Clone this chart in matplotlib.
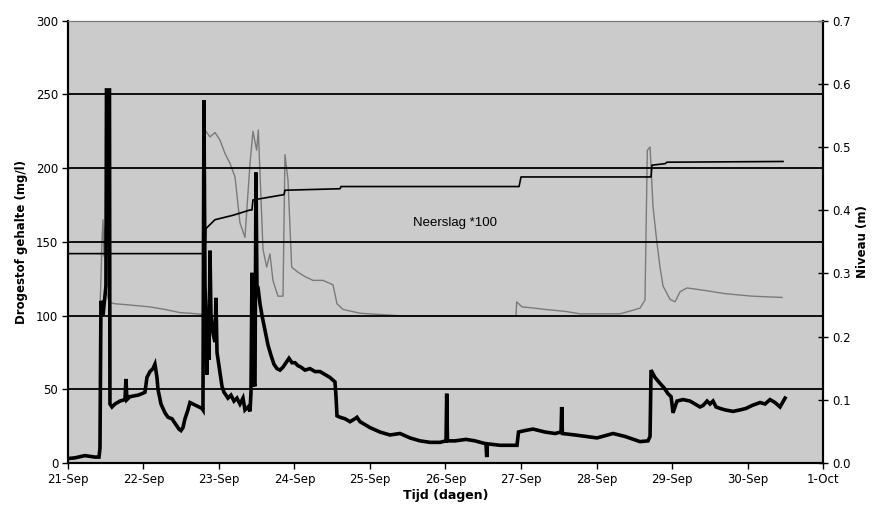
import matplotlib
matplotlib.use("Agg")
import matplotlib.pyplot as plt
import numpy as np

# ---------------- data ----------------
x_tick_labels = ["21-Sep", "22-Sep", "23-Sep", "24-Sep", "25-Sep", "26-Sep",
                 "27-Sep", "28-Sep", "29-Sep", "30-Sep", "1-Oct"]

# Drogestof gehalte (mg/l), time in days since 21-Sep 00:00
drogestof_t = [0.000, 0.093, 0.225, 0.358, 0.411, 0.424, 0.437, 0.464, 0.503, 0.510, 0.550,
               0.556, 0.583, 0.623, 0.689, 0.755, 0.768, 0.781, 0.821, 0.927, 0.980,
               1.020, 1.046, 1.086, 1.126, 1.152, 1.179, 1.192, 1.232, 1.285, 1.325,
               1.377, 1.430, 1.470, 1.497, 1.523, 1.550, 1.589, 1.616, 1.656, 1.695,
               1.735, 1.775, 1.788, 1.801, 1.815, 1.828, 1.841, 1.854, 1.868, 1.881,
               1.894, 1.921, 1.947, 1.960, 1.974, 2.000, 2.013, 2.040, 2.066, 2.093,
               2.119, 2.159, 2.199, 2.238, 2.278, 2.318, 2.344, 2.384, 2.411, 2.424,
               2.437, 2.450, 2.477, 2.490, 2.503, 2.517, 2.543, 2.570, 2.609, 2.649,
               2.689, 2.728, 2.768, 2.808, 2.848, 2.887, 2.927, 2.967, 3.007, 3.046,
               3.086, 3.139, 3.205, 3.272, 3.338, 3.404, 3.470, 3.536, 3.550, 3.563,
               3.603, 3.669, 3.735, 3.801, 3.828, 3.868, 3.934, 4.000, 4.132, 4.265,
               4.397, 4.530, 4.662, 4.795, 4.927, 5.007, 5.016, 5.026, 5.126, 5.272,
               5.391, 5.536, 5.546, 5.555, 5.722, 5.894, 5.947, 5.967, 6.053, 6.159,
               6.318, 6.450, 6.530, 6.539, 6.548, 6.715, 7.007, 7.219, 7.377, 7.576,
               7.682, 7.709, 7.722, 7.775, 7.841, 7.894, 7.947, 7.987, 8.000, 8.013,
               8.040, 8.066, 8.146, 8.238, 8.305, 8.371, 8.411, 8.464, 8.503, 8.543,
               8.583, 8.636, 8.702, 8.808, 8.901, 8.980, 9.060, 9.166, 9.232, 9.298,
               9.364, 9.430, 9.497]
drogestof_v = [3, 3.5, 5, 4, 4, 10, 110, 100, 120, 253, 253,
               40, 38, 40, 42, 43, 57, 43, 45, 46, 47,
               48, 58, 62, 64, 67, 58, 50, 40, 34, 31,
               30, 26, 23, 22, 24, 30, 36, 41, 40, 39,
               38, 37, 36, 246, 120, 102, 60, 100, 70, 144,
               100, 88, 82, 112, 75, 66, 62, 52, 48, 46,
               44, 46, 42, 44, 40, 44, 36, 38, 35, 48,
               129, 55, 52, 197, 120, 119, 108, 100, 90, 80,
               73, 67, 64, 63, 65, 68, 71, 68, 68, 66,
               65, 63, 64, 62, 62, 60, 58, 55, 45, 32,
               31, 30, 28, 30, 31, 28, 26, 24, 21, 19,
               20, 17, 15, 14, 14, 15, 47, 15, 15, 16,
               15, 13, 4, 13, 12, 12, 12, 21, 22, 23,
               21, 20, 21, 38, 20, 19, 17, 20, 18, 14.5,
               15, 18, 63, 58, 54, 51, 47, 45, 40, 34,
               38, 42, 43, 42, 40, 38, 39, 42, 40, 42,
               38, 37, 36, 35, 36, 37, 39, 41, 40, 43,
               41, 38, 44]

# Niveau (m)
niveau_t = [0.424, 0.437, 0.450, 0.464, 0.477, 0.490, 0.503, 0.530, 0.556, 0.623,
            0.821, 1.086, 1.285, 1.483, 1.616, 1.801, 1.815, 1.881, 1.947, 2.013,
            2.079, 2.146, 2.212, 2.278, 2.344, 2.411, 2.450, 2.499, 2.521, 2.583,
            2.632, 2.675, 2.715, 2.781, 2.848, 2.874, 2.914, 2.963, 3.033, 3.139,
            3.245, 3.377, 3.510, 3.563, 3.642, 3.868, 4.132, 4.397, 5.934, 5.943,
            6.013, 6.185, 6.318, 6.583, 6.781, 7.311, 7.576, 7.642, 7.673, 7.709,
            7.748, 7.797, 7.841, 7.881, 7.974, 8.040, 8.106, 8.199, 8.437, 8.702,
            9.060, 9.457]
niveau_v = [0.243, 0.292, 0.350, 0.385, 0.327, 0.373, 0.280, 0.261, 0.254, 0.252,
            0.250, 0.247, 0.243, 0.238, 0.237, 0.235, 0.527, 0.516, 0.523, 0.511,
            0.490, 0.474, 0.453, 0.380, 0.357, 0.474, 0.525, 0.495, 0.527, 0.338,
            0.310, 0.331, 0.289, 0.264, 0.264, 0.488, 0.448, 0.310, 0.303, 0.295,
            0.289, 0.289, 0.282, 0.252, 0.243, 0.237, 0.235, 0.233, 0.233, 0.255,
            0.247, 0.245, 0.243, 0.240, 0.236, 0.236, 0.245, 0.258, 0.495, 0.500,
            0.406, 0.352, 0.310, 0.280, 0.259, 0.255, 0.271, 0.277, 0.273, 0.268,
            0.264, 0.262]

# Neerslag *100 (cumulative, on left scale)
neerslag_t = [0.000, 1.815, 1.828, 1.947, 2.185, 2.411, 2.437, 2.450, 2.861, 2.874,
              3.603, 3.616, 5.974, 6.000, 7.722, 7.735, 7.907, 7.934, 9.470]
neerslag_v = [142, 142, 159, 165, 168, 171.6, 171.6, 178.4, 182, 185,
              186, 187.5, 187.5, 194, 194, 202, 203, 204, 204.5]

# ---------------- plot ----------------
fig = plt.figure(figsize=(8.78, 5.09), dpi=100)
ax = fig.add_axes([0.0774, 0.0904, 0.8600, 0.8690])

ax.set_xlim(0, 10)
ax.set_ylim(0, 300)
for g in [50, 100, 150, 200, 250]:
    ax.axhline(g, color="black", lw=1.3, zorder=1)

ax2 = ax.twinx()
ax2.set_ylim(0.0, 0.7)
ax2.plot(niveau_t, niveau_v, color="#7a7a7a", lw=1.0, zorder=2)

ax.plot(neerslag_t, neerslag_v, color="black", lw=1.2, zorder=3)
ax.plot(drogestof_t, drogestof_v, color="black", lw=2.6, zorder=4,
        solid_joinstyle="miter")

# background patch on the lower (twin) axes, main axes drawn on top
ax.patch.set_visible(False)
ax2.patch.set_visible(True)
ax2.patch.set_facecolor("#cbcbcb")
ax.set_zorder(ax2.get_zorder() + 1)

ax.set_xticks(range(11))
ax.set_xticklabels(x_tick_labels)
ax.set_yticks([0, 50, 100, 150, 200, 250, 300])
ax2.set_yticks([0.0, 0.1, 0.2, 0.3, 0.4, 0.5, 0.6, 0.7])
ax2.set_yticklabels(["0.0", "0.1", "0.2", "0.3", "0.4", "0.5", "0.6", "0.7"])

ax.tick_params(axis="both", labelsize=8.5, length=4, width=1, color="black")
ax.tick_params(axis="y", pad=3)
ax2.tick_params(axis="y", labelsize=8.5, direction="inout", length=7, width=1, pad=3)

for a in (ax, ax2):
    a.spines["top"].set_color("#777777")
    a.spines["left"].set_linewidth(1.5)
    a.spines["bottom"].set_linewidth(1.5)
    a.spines["right"].set_linewidth(1.5)

ax.set_xlabel("Tijd (dagen)", fontsize=9, fontweight="bold", labelpad=2)
ax.set_ylabel("Drogestof gehalte (mg/l)", fontsize=8.5, fontweight="bold", labelpad=6)
ax2.set_ylabel("Niveau (m)", fontsize=8.5, fontweight="bold", rotation=90, labelpad=4)

ax.text(5.13, 163, "Neerslag *100", fontsize=9.5, fontfamily="Liberation Sans",
        ha="center", va="center", zorder=6)

fig.savefig("out.png", dpi=100, facecolor="white")
